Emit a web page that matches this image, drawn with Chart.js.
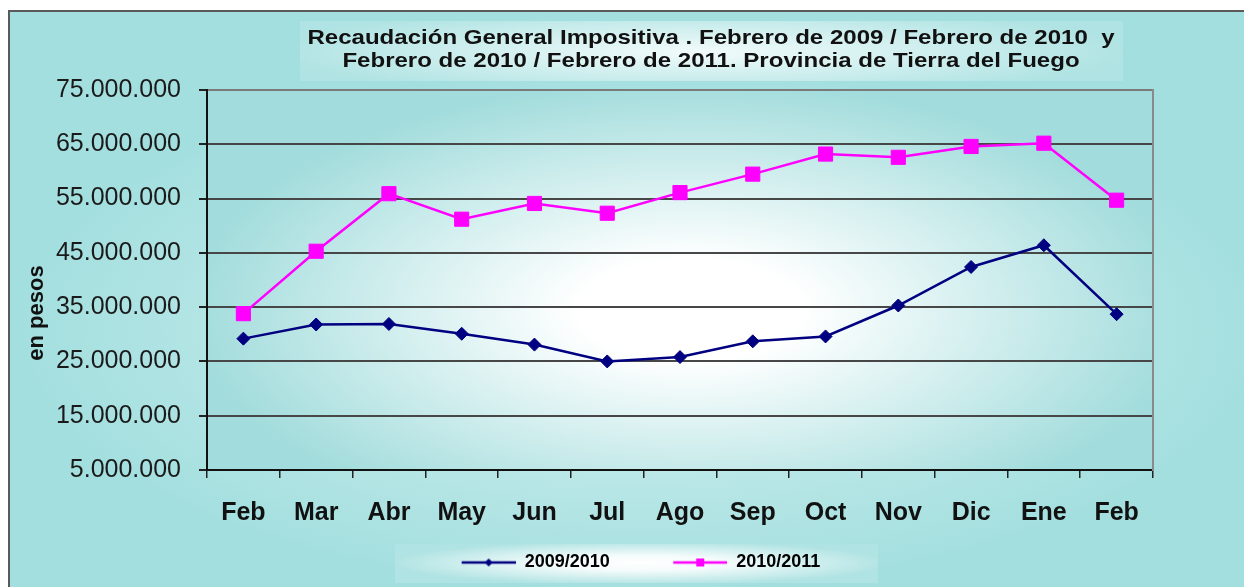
<!DOCTYPE html>
<html lang="es">
<head>
<meta charset="utf-8">
<title>Recaudación General Impositiva</title>
<script src="https://cdn.jsdelivr.net/npm/chart.js@4.4.1/dist/chart.umd.min.js"></script>
<style>
  html, body { margin: 0; padding: 0; background: #fff; }
  #wrap { width: 1244px; height: 587px; }
</style>
</head>
<body>
<div id="wrap"><canvas id="recaudacion-chart" width="1244" height="587"></canvas></div>
<script>
// ─── Datos ─────────────────────────────────────────
const MESES = ['Feb', 'Mar', 'Abr', 'May', 'Jun', 'Jul', 'Ago', 'Sep', 'Oct', 'Nov', 'Dic', 'Ene', 'Feb'];

const SERIE_2009_2010 = [29200000, 31800000, 31900000, 30100000, 28100000, 25000000, 25800000,
                         28700000, 29600000, 35300000, 42400000, 46400000, 33700000];
const SERIE_2010_2011 = [33800000, 45300000, 55900000, 51200000, 54100000, 52300000, 56100000,
                         59500000, 63200000, 62600000, 64600000, 65200000, 54700000];

const Y_MIN  = 5000000;
const Y_MAX  = 75000000;
const Y_STEP = 10000000;

const TITULO = [
  'Recaudación General Impositiva . Febrero de 2009 / Febrero de 2010  y',
  'Febrero de 2010 / Febrero de 2011. Provincia de Tierra del Fuego',
];
const EJE_Y = 'en pesos';

// ─── Estilo ────────────────────────────────────────
const FONT  = "'Liberation Sans', Arial, sans-serif";
const TEAL  = '#a4dfdf';
const NAVY  = '#000080';
const PINK  = '#ff00ff';

const fmtMiles = v => String(v).replace(/\B(?=(\d{3})+(?!\d))/g, '.');

function ellipseFill(ctx, box, cx, cy, rx, ry, stops) {
  ctx.save();
  ctx.beginPath();
  ctx.rect(box[0], box[1], box[2], box[3]);
  ctx.clip();
  ctx.translate(cx, cy);
  ctx.scale(rx / ry, 1);
  const g = ctx.createRadialGradient(0, 0, 0, 0, 0, ry);
  stops.forEach(([o, c]) => g.addColorStop(o, c));
  ctx.fillStyle = g;
  const k = ry / rx;
  ctx.fillRect((box[0] - cx) * k, box[1] - cy, box[2] * k, box[3]);
  ctx.restore();
}

// icono de leyenda: línea con marcador (margen izquierdo transparente para separar los ítems)
function legendIcon(color, kind) {
  const c = document.createElement('canvas');
  c.width = 92; c.height = 12;
  const x = c.getContext('2d');
  x.strokeStyle = color; x.fillStyle = color; x.lineWidth = 2.5;
  x.beginPath(); x.moveTo(38, 6); x.lineTo(92, 6); x.stroke();
  x.beginPath();
  if (kind === 'diamond') {
    x.moveTo(65, 2); x.lineTo(69, 6); x.lineTo(65, 10); x.lineTo(61, 6);
  } else {
    x.rect(61, 2, 8, 8);
  }
  x.closePath(); x.fill();
  return c;
}

const fondo = {
  id: 'fondo',
  beforeDraw(chart) {
    const { ctx, width: W, height: H, chartArea: a } = chart;
    ctx.save();
    ctx.fillStyle = '#fff';
    ctx.fillRect(0, 0, W, H);
    ctx.fillStyle = TEAL;
    ctx.fillRect(9, 11, W, H);
    ellipseFill(ctx, [9, 11, W, H], 640, 330, 620, 260, [[0, '#d6f1f1'], [1, TEAL]]);
    ellipseFill(ctx, [a.left, a.top, a.right - a.left, a.bottom - a.top], 690, 310, 500, 230,
      [[0, '#ffffff'], [0.22, '#ffffff'], [1, '#a2dcdc']]);
    ellipseFill(ctx, [300, 21, 823, 60], 700, 52, 430, 45, [[0, '#f2fbfb'], [1, '#b0e3e3']]);
    ellipseFill(ctx, [395, 544, 483, 39], 640, 563, 250, 22,
      [[0, '#ffffff'], [0.35, '#f4fbfb'], [1, '#b0e3e3']]);
    ctx.strokeStyle = '#5a5a5a';
    ctx.lineWidth = 2;
    ctx.beginPath();
    ctx.moveTo(9, H); ctx.lineTo(9, 11); ctx.lineTo(W, 11);
    ctx.stroke();
    ctx.restore();
  },
  afterDraw(chart) {
    const { ctx } = chart;
    ctx.save();
    ctx.fillStyle = '#111';
    ctx.textAlign = 'center';
    ctx.textBaseline = 'alphabetic';
    ctx.font = `bold 21px ${FONT}`;
    ctx.save();
    ctx.translate(711, 0);
    ctx.scale(1.145, 1);
    ctx.fillText(TITULO[0], 0, 44);
    ctx.fillText(TITULO[1], 0, 67);
    ctx.restore();
    ctx.translate(37, 313);
    ctx.rotate(-Math.PI / 2);
    ctx.textBaseline = 'middle';
    ctx.font = `bold 22px ${FONT}`;
    ctx.fillText(EJE_Y, 0, 0);
    ctx.restore();
  },
};

const iconos = [legendIcon(NAVY, 'diamond'), legendIcon(PINK, 'square')];

new Chart(document.getElementById('recaudacion-chart'), {
  type: 'line',
  data: {
    labels: MESES,
    datasets: [
      {
        label: '2009/2010',
        data: SERIE_2009_2010,
        borderColor: NAVY,
        backgroundColor: NAVY,
        borderWidth: 2.5,
        pointStyle: 'rectRot',
        pointRadius: 6.5,
        pointBorderWidth: 1,
        tension: 0,
      },
      {
        label: '2010/2011',
        data: SERIE_2010_2011,
        borderColor: PINK,
        backgroundColor: PINK,
        borderWidth: 2.5,
        pointStyle: 'rect',
        pointRadius: 10,
        pointBorderWidth: 1,
        tension: 0,
      },
    ],
  },
  options: {
    responsive: false,
    animation: false,
    devicePixelRatio: 1,
    layout: { padding: { top: 90, left: 0, right: 0, bottom: 5.5 } },
    plugins: {
      title: { display: false },
      tooltip: { enabled: false },
      legend: {
        position: 'bottom',
        align: 'center',
        labels: {
          usePointStyle: true,
          pointStyleWidth: 92,
          padding: 25.5,
          color: '#111',
          font: { family: FONT, size: 18, weight: 'bold' },
          generateLabels: chart => chart.data.datasets.map((ds, i) => ({
            text: ds.label,
            pointStyle: iconos[i],
            fillStyle: ds.borderColor,
            strokeStyle: ds.borderColor,
            lineWidth: 0,
            hidden: false,
            datasetIndex: i,
          })),
        },
      },
    },
    scales: {
      x: {
        offset: true,
        grid: { display: true, offset: true, drawOnChartArea: false, drawTicks: true,
                tickLength: 8, color: '#222', lineWidth: 1.5 },
        border: { display: true, color: '#111', width: 2 },
        ticks: { color: '#111', padding: 20, maxRotation: 0, autoSkip: false,
                 font: { family: FONT, size: 25, weight: 'bold' } },
        afterFit: s => { s.height = 58; },
      },
      y: {
        min: Y_MIN,
        max: Y_MAX,
        ticks: { stepSize: Y_STEP, color: '#1a1a1a', padding: 18,
                 font: { family: FONT, size: 25 }, callback: v => fmtMiles(v) },
        grid: {
          color: c => (c.tick && c.tick.value === Y_MAX ? '#7a7a7a' : '#474747'),
          lineWidth: 2,
          tickLength: 8,
          tickColor: '#222',
        },
        border: { display: true, color: '#111', width: 2 },
        afterFit: s => { s.width = 207; },
      },
      yr: {
        position: 'right',
        min: Y_MIN,
        max: Y_MAX,
        ticks: { display: false },
        grid: { drawOnChartArea: false, drawTicks: false },
        border: { display: true, color: '#8a8a8a', width: 2 },
        afterFit: s => { s.width = 91; },
      },
    },
  },
  plugins: [fondo],
});
</script>
</body>
</html>
